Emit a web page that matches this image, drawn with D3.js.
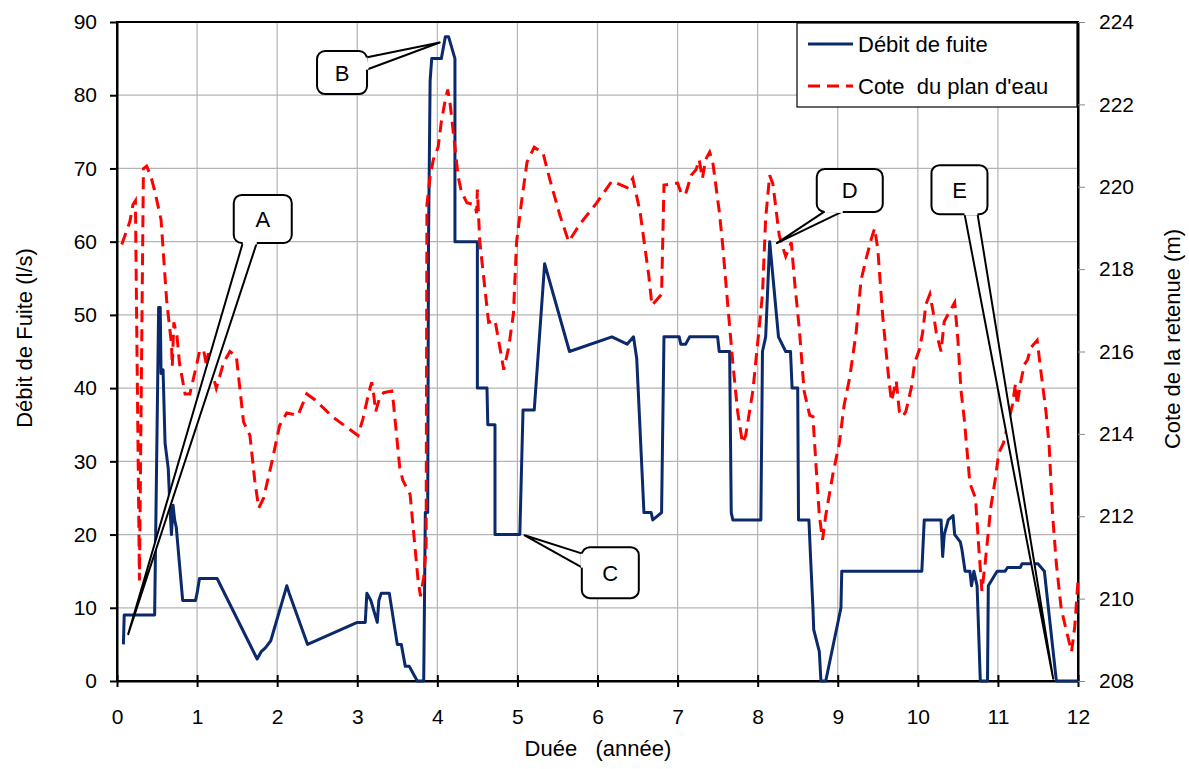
<!DOCTYPE html>
<html>
<head>
<meta charset="utf-8">
<script src="https://cdn.jsdelivr.net/npm/d3@7"></script>
<style>
  body { margin: 0; background: #fff; }
  text { font-family: "Liberation Sans", Arial, sans-serif; fill: #000; }
</style>
</head>
<body>
<svg id="chart" width="1189" height="769"></svg>
<script>
// ---- data ----
const leakTime = [0.08,0.09,0.47,0.52,0.54,0.55,0.575,0.6,0.64,0.66,0.68,0.7,0.72,0.74,0.78,0.82,0.98,1.0,1.03,1.25,1.75,1.8,1.85,1.92,2.12,2.15,2.38,3.0,3.1,3.12,3.17,3.25,3.27,3.3,3.4,3.5,3.55,3.6,3.65,3.7,3.75,3.83,3.85,3.88,3.89,3.91,3.93,4.05,4.1,4.14,4.22,4.22,4.5,4.5,4.62,4.63,4.72,4.72,5.03,5.07,5.21,5.34,5.65,6.18,6.37,6.45,6.49,6.58,6.67,6.69,6.8,6.83,7.02,7.04,7.1,7.15,7.5,7.52,7.65,7.67,7.69,8.04,8.06,8.1,8.15,8.26,8.35,8.41,8.43,8.5,8.51,8.64,8.66,8.69,8.7,8.77,8.79,8.85,9.04,9.05,10.05,10.08,10.29,10.31,10.33,10.38,10.44,10.46,10.53,10.55,10.59,10.65,10.67,10.7,10.74,10.78,10.87,10.88,10.99,11.09,11.12,11.28,11.3,11.5,11.58,11.73,12.0];
const leakFlow = [5,9,9,51,51,42,42.5,32.5,29,24,20,24,22,21,16,11,11,12,14,14,3,4,4.5,5.5,13,12,5,8,8,12,11,8,11,12,12,5,5,2,2,1,0,0,23,23,60,82,85,85,88,88,85,60,60,40,40,35,35,20,20,37,37,57,45,47,46,47,44,23,23,22,23,47,47,46,46,47,47,45,45,23,22,22,45,47,60,47,45,45,40,40,22,22,17,10,7,4,0,0,10,15,15,22,22,17,20,22,22.6,20,19,18,15,15,13,15,13,0,0,13,15,15,15.5,15.5,16,16,15,0,0];

const levelTime = [0.06,0.16,0.2,0.23,0.28,0.33,0.37,0.42,0.47,0.55,0.62,0.68,0.69,0.71,0.75,0.78,0.85,0.91,0.99,1.03,1.08,1.12,1.14,1.18,1.24,1.33,1.41,1.49,1.58,1.66,1.72,1.77,1.83,1.93,2.03,2.12,2.26,2.37,2.47,2.7,3.01,3.07,3.12,3.16,3.18,3.2,3.23,3.28,3.33,3.43,3.45,3.53,3.57,3.66,3.72,3.76,3.79,3.83,3.86,3.87,3.91,3.95,4.01,4.05,4.1,4.13,4.16,4.22,4.26,4.3,4.37,4.47,4.49,4.5,4.53,4.64,4.72,4.83,4.89,4.95,4.99,5.05,5.12,5.21,5.32,5.41,5.53,5.64,5.78,5.99,6.18,6.37,6.44,6.53,6.64,6.68,6.8,6.83,7.0,7.05,7.1,7.17,7.23,7.27,7.31,7.35,7.4,7.44,7.52,7.56,7.63,7.69,7.75,7.81,7.85,7.94,8.0,8.06,8.1,8.15,8.19,8.27,8.35,8.42,8.46,8.52,8.58,8.65,8.69,8.73,8.77,8.81,8.85,8.94,9.02,9.08,9.15,9.23,9.29,9.35,9.42,9.46,9.5,9.56,9.63,9.67,9.73,9.77,9.81,9.85,9.92,9.96,10.02,10.06,10.1,10.15,10.19,10.23,10.29,10.33,10.4,10.46,10.5,10.54,10.58,10.65,10.72,10.76,10.8,10.84,10.91,10.97,11.01,11.07,11.14,11.18,11.22,11.24,11.28,11.33,11.37,11.41,11.49,11.54,11.6,11.64,11.68,11.73,11.79,11.85,11.92,11.96,12.0];
const levelCote = [218.6,219.15,219.57,219.66,210.44,220.44,220.5,220.27,219.91,219.2,217.24,216.18,215.64,216.71,216.36,215.72,214.97,214.97,215.64,216,216.05,215.64,215.96,215.56,215.11,215.72,216,215.89,214.29,213.96,212.87,212.2,212.44,213.28,214.2,214.51,214.45,214.97,214.83,214.4,213.96,214.36,214.79,215.11,215.25,215.04,214.54,214.88,215,215.04,214.79,213.19,212.87,212.53,211.27,210.44,210.06,210.52,211.27,219.56,220.25,220.66,220.96,221.58,222.12,222.36,222.01,220.96,220.25,219.88,219.61,219.56,219.36,219.93,218.67,216.71,216.76,215.56,216.09,216.91,218.67,219.61,220.6,220.96,220.82,220.14,219.31,218.67,219.09,219.61,220.14,219.98,220.2,219.41,217.85,217.12,217.39,220.04,220.09,219.82,219.82,220.28,220.41,220.66,220.2,220.66,220.84,220.59,219.41,218.65,217.05,215.72,214.54,213.78,213.96,215.04,216.21,217.39,219.24,220.28,220.07,218.81,218.31,218.65,217.72,216.55,215.04,214.45,214.42,213.19,212.02,211.43,212.02,213.03,213.78,214.7,215.38,216.46,217.72,218.22,218.74,218.99,218.49,216.89,215.47,214.79,215.29,214.54,214.42,214.54,215.13,215.72,216.05,216.46,217.14,217.39,216.98,216.46,216,216.73,216.98,217.19,216.3,215.04,214.36,212.8,212.44,211.27,210.19,210.84,212.2,212.94,213.53,213.78,214.36,214.7,215.22,214.7,215.22,215.68,215.8,216.09,216.27,215.47,214.54,213.71,212.11,210.84,209.76,209.26,208.71,209.33,210.44];

const xTicks = d3.range(0, 13, 1);
const flowTicks = d3.range(0, 91, 10);
const coteTicks = d3.range(208, 225, 2);
const seriesNames = ["Débit de fuite", "Cote  du plan d'eau"];

// callouts: tip = data point (time, flow), box centre also in (time, flow)
const callouts = [
  {label: "A", tip: [0.14, 6.4], box: [1.82, 63.1], w: 58, h: 48, base: [[-20, 24], [-6, 24]]},
  {label: "B", tip: [4.03, 87.2], box: [2.81, 83.1], w: 50, h: 43, base: [[24, -15], [25, -3]]},
  {label: "C", tip: [5.09, 19.9], box: [6.16, 14.8], w: 57, h: 51, base: [[-28, -19], [-28, -5]]},
  {label: "D", tip: [8.24, 59.8], box: [9.15, 67.0], w: 66, h: 43, base: [[-25, 21], [-7, 21]]},
  {label: "E", tip: [11.69, 0.3], box: [10.52, 67.1], w: 56, h: 49, base: [[5, 24], [18, 24]]}
];

// ---- layout ----
const margin = {top: 22, right: 111, bottom: 88, left: 117};
const W = 1189, H = 769;
const width = W - margin.left - margin.right,
      height = H - margin.top - margin.bottom;

const svg = d3.select("#chart");
const g = svg.append("g").attr("transform", "translate(" + margin.left + "," + margin.top + ")");

const x = d3.scaleLinear().domain([0, 12]).range([0, width]);
const yL = d3.scaleLinear().domain([0, 90]).range([height, 0]);
const yR = d3.scaleLinear().domain([208, 224]).range([height, 0]);

// gridlines
g.append("g").selectAll("line").data(xTicks.slice(1, -1)).join("line")
  .attr("x1", d => x(d)).attr("x2", d => x(d)).attr("y1", 0).attr("y2", height)
  .attr("stroke", "#b4b4b4").attr("stroke-width", 1.2);
g.append("g").selectAll("line").data(flowTicks.slice(1, -1)).join("line")
  .attr("y1", d => yL(d)).attr("y2", d => yL(d)).attr("x1", 0).attr("x2", width)
  .attr("stroke", "#b4b4b4").attr("stroke-width", 1.2);

// plot frame
g.append("rect").attr("width", width).attr("height", height)
  .attr("fill", "none").attr("stroke", "#000").attr("stroke-width", 2);

// axes
const fs = "21px";
const xAxis = g.append("g").attr("transform", "translate(0," + height + ")")
  .call(d3.axisBottom(x).tickValues(xTicks).tickSize(6).tickSizeOuter(0).tickPadding(22));
const yAxisL = g.append("g")
  .call(d3.axisLeft(yL).tickValues(flowTicks).tickSize(7).tickSizeOuter(0).tickPadding(13));
const yAxisR = g.append("g").attr("transform", "translate(" + width + ",0)")
  .call(d3.axisRight(yR).tickValues(coteTicks).tickSize(7).tickSizeOuter(0).tickPadding(14));
[xAxis, yAxisL, yAxisR].forEach(a => {
  a.select(".domain").attr("stroke", "#000").attr("stroke-width", 2);
  a.selectAll(".tick line").attr("stroke", "#000").attr("stroke-width", 2);
  a.selectAll(".tick text").style("font-size", fs).attr("font-family", null);
});
xAxis.selectAll(".tick line").attr("y1", -6);
yAxisR.selectAll(".tick line").attr("stroke", "#888").attr("stroke-width", 1);

// series
const leakLine = d3.line().x((d, i) => x(leakTime[i])).y(d => yL(d));
const levelLine = d3.line().x((d, i) => x(levelTime[i])).y(d => yR(d));

g.append("path").datum(leakFlow).attr("d", leakLine)
  .attr("fill", "none").attr("stroke", "#0b2a6b").attr("stroke-width", 3)
  .attr("stroke-linejoin", "round");
g.append("path").datum(levelCote).attr("d", levelLine)
  .attr("fill", "none").attr("stroke", "#ff0000").attr("stroke-width", 3)
  .attr("stroke-dasharray", "12,7");

// callouts
callouts.forEach(c => {
  const cx = x(c.box[0]), cy = yL(c.box[1]);
  const tx = x(c.tip[0]), ty = yL(c.tip[1]);
  const cg = g.append("g");
  cg.append("path")
    .attr("d", "M" + (cx + c.base[0][0]) + "," + (cy + c.base[0][1]) +
      "L" + tx + "," + ty + "L" + (cx + c.base[1][0]) + "," + (cy + c.base[1][1]) + "Z")
    .attr("fill", "#fff").attr("stroke", "#000").attr("stroke-width", 2)
    .attr("stroke-linejoin", "round");
  cg.append("rect")
    .attr("x", cx - c.w / 2).attr("y", cy - c.h / 2).attr("width", c.w).attr("height", c.h)
    .attr("rx", 8).attr("fill", "#fff").attr("stroke", "#000").attr("stroke-width", 2);
  // hide the tail joint inside the box edge
  cg.append("path")
    .attr("d", "M" + (cx + c.base[0][0]) + "," + (cy + c.base[0][1]) +
      "L" + (cx + c.base[1][0]) + "," + (cy + c.base[1][1]))
    .attr("stroke", "#fff").attr("stroke-width", 3);
  cg.append("text").attr("x", cx).attr("y", cy + 8).attr("text-anchor", "middle")
    .style("font-size", "22px").text(c.label);
});

// legend
const lg = svg.append("g").attr("transform", "translate(797,23)");
lg.append("rect").attr("width", 280).attr("height", 84)
  .attr("fill", "#fff").attr("stroke", "#000").attr("stroke-width", 1.2);
const legendStyles = [
  {stroke: "#0b2a6b", dash: null},
  {stroke: "#ff0000", dash: "12,7"}
];
seriesNames.forEach((name, i) => {
  const yy = 21 + i * 42;
  lg.append("line").attr("x1", 11).attr("x2", 56).attr("y1", yy).attr("y2", yy)
    .attr("stroke", legendStyles[i].stroke).attr("stroke-width", 3)
    .attr("stroke-dasharray", legendStyles[i].dash);
  lg.append("text").attr("x", 61).attr("y", yy + 8)
    .style("font-size", "22px").style("white-space", "pre").text(name);
});

// axis titles
svg.append("text").attr("x", 598).attr("y", 756).attr("text-anchor", "middle")
  .style("font-size", "22px").style("white-space", "pre").text("Duée   (année)");
svg.append("text").attr("transform", "translate(32,338) rotate(-90)").attr("text-anchor", "middle")
  .style("font-size", "22px").text("Débit de Fuite (l/s)");
svg.append("text").attr("transform", "translate(1180,339) rotate(-90)").attr("text-anchor", "middle")
  .style("font-size", "22px").text("Cote de la retenue (m)");
</script>
</body>
</html>
